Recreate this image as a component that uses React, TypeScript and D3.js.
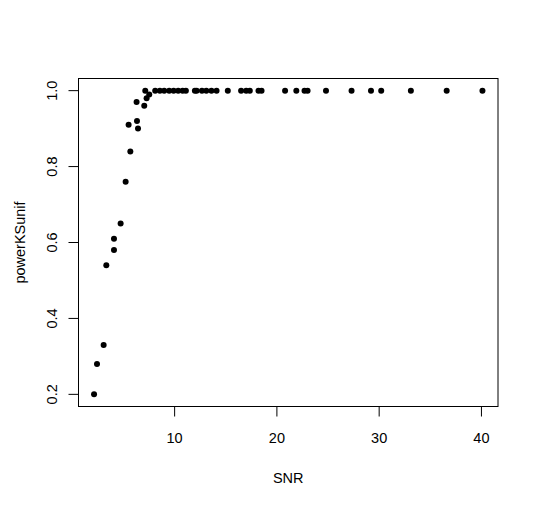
import React from "react";
import { scaleLinear, extent } from "d3";

// values
const snr = [
  2.12, 2.41, 3.06, 3.32, 4.07, 4.07, 4.72, 5.21, 5.67, 5.5, 6.32, 6.42, 6.28,
  7.03, 7.26, 7.52, 7.13,
  8.1, 8.56, 8.98, 9.47, 9.9, 10.35, 10.78, 11.1, 11.98, 12.15, 12.67, 13.1,
  13.6, 14.1, 15.2, 16.5, 17.0, 17.35, 18.2, 18.5, 20.8, 21.9, 22.7, 23.0,
  24.8, 27.3, 29.2, 30.2, 33.1, 36.6, 40.1,
];
const powerKSunif = [
  0.2, 0.28, 0.33, 0.54, 0.61, 0.58, 0.65, 0.76, 0.84, 0.91, 0.92, 0.9, 0.97,
  0.96, 0.98, 0.99, 1.0,
  1, 1, 1, 1, 1, 1, 1, 1, 1, 1, 1, 1, 1, 1, 1, 1, 1, 1, 1, 1, 1, 1, 1, 1, 1,
  1, 1, 1, 1, 1, 1,
];
const xTicks = [10, 20, 30, 40];
const yTicks = [0.2, 0.4, 0.6, 0.8, 1.0];

const W = 539;
const H = 505;
const left = 78.5;
const right = 498;
const top = 78.5;
const bottom = 406.5;
const font = "'Liberation Sans', Arial, Helvetica, sans-serif";
const fs = 14.5;

// R-style 4% padding of the data range
const pad = ([a, b]: number[]) => {
  const r = b - a;
  return [a - 0.04 * r, b + 0.04 * r];
};

export default function App() {
  const xDom = extent(snr) as number[];
  const yDom = extent(powerKSunif) as number[];
  const x = scaleLinear().domain(pad(xDom)).range([left, right]);
  const y = scaleLinear().domain(pad(yDom)).range([bottom, top]);
  const tick = 10;

  return (
    <svg
      width={W}
      height={H}
      style={{ position: "absolute", left: 0, top: 0, background: "#fff" }}
    >
      <rect
        x={left}
        y={top}
        width={right - left}
        height={bottom - top}
        fill="none"
        stroke="#000"
        strokeWidth={1}
      />
      {/* x axis */}
      <line
        x1={x(xTicks[0])}
        x2={x(xTicks[xTicks.length - 1])}
        y1={bottom}
        y2={bottom}
        stroke="#000"
      />
      {xTicks.map((t) => (
        <g key={t}>
          <line x1={x(t)} x2={x(t)} y1={bottom} y2={bottom + tick} stroke="#000" />
          <text
            x={x(t)}
            y={bottom + 36}
            textAnchor="middle"
            fontFamily={font}
            fontSize={fs}
          >
            {t}
          </text>
        </g>
      ))}
      {/* y axis */}
      <line
        x1={left}
        x2={left}
        y1={y(yTicks[0])}
        y2={y(yTicks[yTicks.length - 1])}
        stroke="#000"
      />
      {yTicks.map((t) => (
        <g key={t}>
          <line x1={left - tick} x2={left} y1={y(t)} y2={y(t)} stroke="#000" />
          <text
            transform={`translate(${left - 21.5},${y(t)}) rotate(-90)`}
            textAnchor="middle"
            fontFamily={font}
            fontSize={fs}
          >
            {t.toFixed(1)}
          </text>
        </g>
      ))}
      <text
        x={(left + right) / 2}
        y={483}
        textAnchor="middle"
        fontFamily={font}
        fontSize={fs}
      >
        SNR
      </text>
      <text
        transform={`translate(${25},${(top + bottom) / 2}) rotate(-90)`}
        textAnchor="middle"
        fontFamily={font}
        fontSize={fs}
      >
        powerKSunif
      </text>
      {snr.map((s, i) => (
        <circle key={i} cx={x(s)} cy={y(powerKSunif[i])} r={3} fill="#000" />
      ))}
    </svg>
  );
}
